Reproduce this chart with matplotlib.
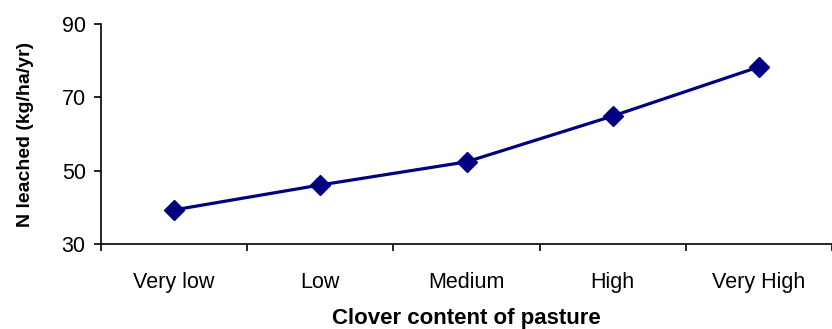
import matplotlib.pyplot as plt

plt.rcParams['font.family'] = ['Liberation Sans', 'DejaVu Sans']

# clover levels and leaching estimates
categories = ["Very low", "Low", "Medium", "High", "Very High"]
n_leached = [39.3, 46.1, 52.4, 64.9, 78.3]
yticks = [30, 50, 70, 90]

W, H, DPI = 832, 329, 100
fig = plt.figure(figsize=(W / DPI, H / DPI), dpi=DPI)
ax = fig.add_axes([101 / W, 1 - 244 / H, (832 - 101) / W, (244 - 24) / H])

x = list(range(len(categories)))
ax.plot(x, n_leached, color="#000080", lw=2.3, marker="D", markersize=10.5,
        markerfacecolor="#000080", markeredgecolor="#000080", clip_on=False)

ax.set_ylim(30, 90)
ax.set_yticks(yticks)
ax.set_xlim(-0.5, 4.47)
ax.set_xticks(x)
ax.set_xticklabels(categories)
ax.tick_params(axis="x", length=0, pad=20, labelsize=15.5)
# boundary ticks between categories
ax.set_xticks([i - 0.5 for i in range(len(categories) + 1)], minor=True)
ax.tick_params(axis="x", which="minor", length=5, width=1.2, direction="out")
ax.tick_params(axis="y", length=5, width=1.2, direction="out", labelsize=15.5, pad=6)

for side in ("top", "right"):
    ax.spines[side].set_visible(False)
for side in ("left", "bottom"):
    ax.spines[side].set_linewidth(1.2)

ax.set_ylabel("N leached (kg/ha/yr)", fontsize=14, fontweight="bold", labelpad=20)
ax.set_xlabel("Clover content of pasture", fontsize=16, fontweight="bold", labelpad=11)

fig.savefig("out.png", dpi=DPI)
